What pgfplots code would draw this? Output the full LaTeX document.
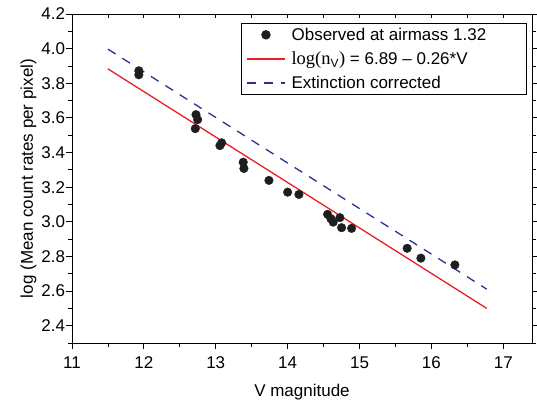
\documentclass[border=0pt]{standalone}
\usepackage{fontspec}
\setmainfont{Liberation Sans}
\newfontfamily\serifl{Liberation Serif}
\usepackage{pgfplots}
\pgfplotsset{compat=1.18}
\definecolor{lred}{RGB}{235,30,38}
\definecolor{lblue}{RGB}{40,50,150}
\definecolor{dot}{RGB}{30,30,30}
\begin{document}
\begin{tikzpicture}
\path[use as bounding box] (-72pt,-62pt) rectangle (465pt,343pt);
\begin{axis}[
  at={(0,0)}, anchor=south west,
  scale only axis, width=460pt, height=329pt,
  xmin=11, xmax=17.4, ymin=2.3, ymax=4.2,
  font=\fontsize{17}{20}\selectfont,
  /pgf/number format/assume math mode=true,
  xtick={11,12,13,14,15,16,17},
  minor xtick={11.5,12.5,13.5,14.5,15.5,16.5},
  ytick={2.4,2.6,2.8,3.0,3.2,3.4,3.6,3.8,4.0,4.2},
  minor ytick={2.3,2.5,2.7,2.9,3.1,3.3,3.5,3.7,3.9,4.1},
  yticklabel style={xshift=2.5pt, /pgf/number format/.cd,fixed,fixed zerofill,precision=1},
  xticklabel style={yshift=-4pt},
  tick align=outside,
  xtick pos=bottom, ytick pos=both, yticklabel pos=left,
  major tick length=6pt, minor tick length=3.5pt,
  tick style={black, line width=0.8pt},
  axis line style={line width=0.9pt},
  xlabel={V magnitude},
  ylabel={log (Mean count rates per pixel)},
  xlabel style={yshift=-9pt},
  ylabel style={yshift=-2pt},
  legend image code/.code={\draw[mark repeat=2,mark phase=2,#1] plot coordinates {(0pt,0pt)(19pt,0pt)(38pt,0pt)};},
  legend style={at={(1,1)}, anchor=north east, xshift=-5pt, yshift=-8.5pt,
    draw=black, line width=0.8pt, font=\fontsize{17}{20}\selectfont,
    row sep=6pt, inner xsep=5pt, inner ysep=3pt},
  legend cell align=left,
]
\addplot[only marks, mark=*, mark size=4.3pt, color=dot] coordinates {
(11.93,3.872) (11.93,3.849) (12.725,3.619) (12.748,3.590) (12.715,3.538)
(13.082,3.456) (13.058,3.440) (13.382,3.344) (13.392,3.308) (13.740,3.239)
(14.000,3.171) (14.157,3.158) (14.556,3.043) (14.602,3.018) (14.634,2.998)
(14.727,3.024) (14.751,2.966) (14.890,2.962) (15.663,2.847) (15.854,2.790)
(16.327,2.751)
};
\addlegendentry{\makebox[232pt][l]{\hspace{4pt}Observed at airmass 1.32}}
\addplot[lred, line width=1.3pt] coordinates {(11.5,3.883) (16.77,2.500)};
\addlegendentry{\hspace{4pt}{\serifl\fontsize{18.5}{20}\selectfont log(n}\textsubscript{V}{\serifl\fontsize{18.5}{20}\selectfont )} = 6.89 – 0.26*V}
\addplot[lblue, line width=1.3pt, dash pattern=on 9pt off 8pt] coordinates {(11.5,3.997) (16.77,2.611)};
\addlegendentry{\hspace{4pt}Extinction corrected}
\end{axis}
\begin{axis}[
  at={(0,0)}, anchor=south west,
  scale only axis, width=460pt, height=329pt,
  xmin=11, xmax=17.4, ymin=2.3, ymax=4.2,
  axis x line*=top, hide y axis,
  xtick={11,11.5,...,17}, xticklabels={},
  tick align=inside, major tick length=4.5pt,
  tick style={black, line width=0.8pt},
  axis line style={line width=0.9pt},
]
\end{axis}
\end{tikzpicture}
\end{document}
